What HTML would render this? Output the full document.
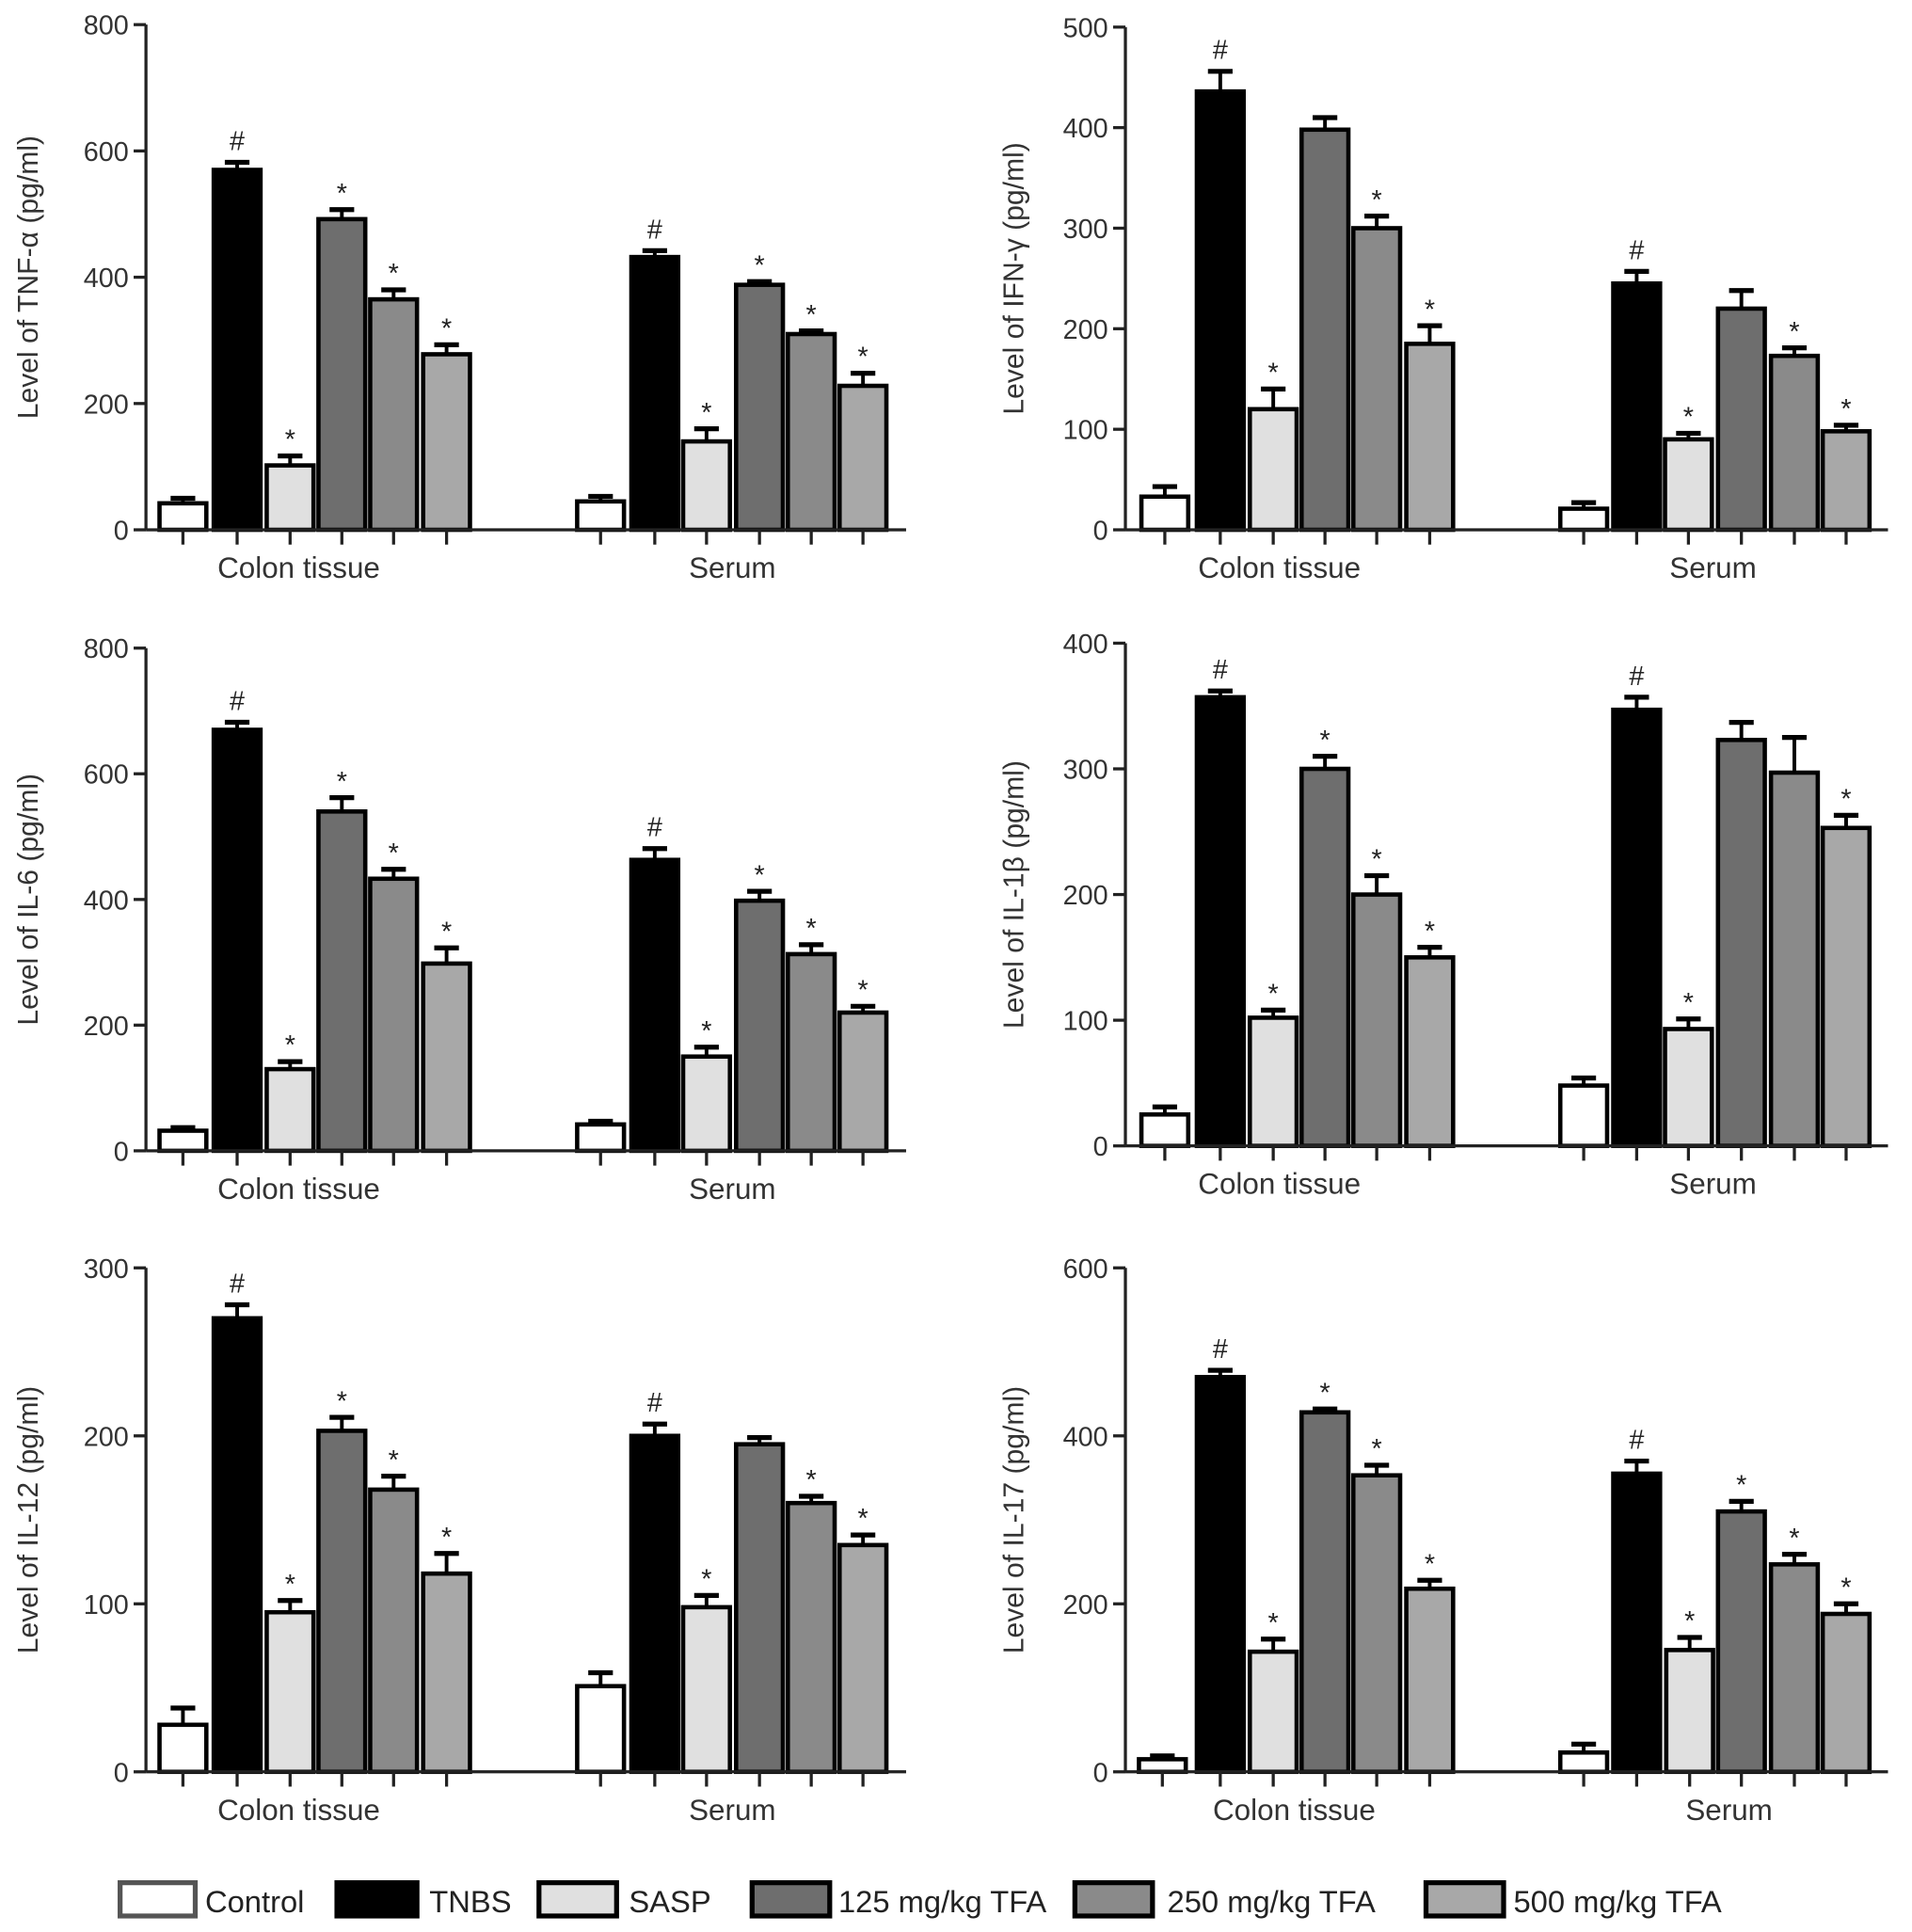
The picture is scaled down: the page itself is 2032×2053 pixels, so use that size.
<!DOCTYPE html>
<html><head><meta charset="utf-8"><style>
html,body{margin:0;padding:0;background:#fff;}
svg{display:block;font-family:"Liberation Sans",sans-serif;}
</style></head><body>
<svg id="chart" width="2032" height="2053" viewBox="0 0 1551 1568" xmlns="http://www.w3.org/2000/svg"></svg>
<script>
const groups = ['Colon tissue','Serum'];
const seriesNames = ['Control','TNBS','SASP','125 mg/kg TFA','250 mg/kg TFA','500 mg/kg TFA'];
const fills = ['#ffffff','#000000','#e0e0e0','#6e6e6e','#8a8a8a','#a8a8a8'];

const tnfColon = [42,570,102,492,365,278];
const tnfColonErr = [8,12,15,15,15,15];
const tnfSerum = [45,432,140,388,310,228];
const tnfSerumErr = [8,10,20,5,5,20];
const tnfTicks = [0,200,400,600,800];

const ifnColon = [33,436,120,398,300,185];
const ifnColonErr = [10,20,20,12,12,18];
const ifnSerum = [21,245,90,220,173,98];
const ifnSerumErr = [6,12,6,18,8,6];
const ifnTicks = [0,100,200,300,400,500];

const il6Colon = [32,670,130,540,433,298];
const il6ColonErr = [5,12,12,22,15,25];
const il6Serum = [42,463,150,398,313,220];
const il6SerumErr = [5,18,15,15,15,10];
const il6Ticks = [0,200,400,600,800];

const il1bColon = [25,357,102,300,200,150];
const il1bColonErr = [6,5,6,10,15,8];
const il1bSerum = [48,347,93,323,297,253];
const il1bSerumErr = [6,10,8,14,28,10];
const il1bTicks = [0,100,200,300,400];

const il12Colon = [28,270,95,203,168,118];
const il12ColonErr = [10,8,7,8,8,12];
const il12Serum = [51,200,98,195,160,135];
const il12SerumErr = [8,7,7,4,4,6];
const il12Ticks = [0,100,200,300];

const il17Colon = [15,470,143,428,353,218];
const il17ColonErr = [4,8,15,4,12,10];
const il17Serum = [23,355,145,310,247,188];
const il17SerumErr = [10,15,15,12,12,12];
const il17Ticks = [0,200,400,600];

const markAll = ['','#','*','*','*','*'];
const markIfn = ['','#','*','','*','*'];
const markIl1bSerum = ['','#','*','','','*'];

const NS='http://www.w3.org/2000/svg';
const svg=document.getElementById('chart');
function mk(tag,attrs,parent){const e=document.createElementNS(NS,tag);for(const k in attrs)e.setAttribute(k,attrs[k]);(parent||svg).appendChild(e);return e;}

const panels=[
 {id:'tnf',title:'Level of TNF-α (pg/ml)',ax:118,top:20,bot:430,right:735,ticks:tnfTicks,data:[tnfColon,tnfSerum],err:[tnfColonErr,tnfSerumErr],marks:[markAll,markAll],cx:[[148,192,235,277,319,362],[487,531,573,616,658,700]],lab:[242,594],tx:22},
 {id:'ifn',title:'Level of IFN-γ (pg/ml)',ax:913,top:22,bot:430,right:1532,ticks:ifnTicks,data:[ifnColon,ifnSerum],err:[ifnColonErr,ifnSerumErr],marks:[markIfn,markIfn],cx:[[945,990,1033,1075,1117,1160],[1285,1328,1370,1413,1456,1498]],lab:[1038,1390],tx:822},
 {id:'il6',title:'Level of IL-6 (pg/ml)',ax:118,top:526,bot:934,right:735,ticks:il6Ticks,data:[il6Colon,il6Serum],err:[il6ColonErr,il6SerumErr],marks:[markAll,markAll],cx:[[148,192,235,277,319,362],[487,531,573,616,658,700]],lab:[242,594],tx:22},
 {id:'il1b',title:'Level of IL-1β (pg/ml)',ax:913,top:522,bot:930,right:1532,ticks:il1bTicks,data:[il1bColon,il1bSerum],err:[il1bColonErr,il1bSerumErr],marks:[markAll,markIl1bSerum],cx:[[945,990,1033,1075,1117,1160],[1285,1328,1370,1413,1456,1498]],lab:[1038,1390],tx:822},
 {id:'il12',title:'Level of IL-12 (pg/ml)',ax:118,top:1029,bot:1438,right:735,ticks:il12Ticks,data:[il12Colon,il12Serum],err:[il12ColonErr,il12SerumErr],marks:[markAll,markIfn],cx:[[148,192,235,277,319,362],[487,531,573,616,658,700]],lab:[242,594],tx:22},
 {id:'il17',title:'Level of IL-17 (pg/ml)',ax:913,top:1029,bot:1438,right:1532,ticks:il17Ticks,data:[il17Colon,il17Serum],err:[il17ColonErr,il17SerumErr],marks:[markAll,markAll],cx:[[943,990,1033,1075,1117,1160],[1285,1328,1371,1413,1456,1498]],lab:[1050,1403],tx:822}
];

panels.forEach(p=>{
  const g=mk('g',{});
  
  
  const max=p.ticks[p.ticks.length-1];
  const y=v=>p.bot-(v/max)*(p.bot-p.top);
  p.data.forEach((vals,gi)=>{
    vals.forEach((v,si)=>{
      const cx=p.cx[gi][si], w=38;
      const e=p.err[gi][si];
      const el=mk('line',{x1:cx,x2:cx,y1:y(v),y2:y(v+e),stroke:'#000','stroke-width':3},g);
      
      
      const cap=mk('line',{x1:cx-10,x2:cx+10,y1:y(v+e),y2:y(v+e),stroke:'#000','stroke-width':4},g);
      
      
      const r=mk('rect',{x:cx-w/2,y:y(v),width:w,height:p.bot-y(v),fill:fills[si],stroke:'#000','stroke-width':3.5},g);
      
      
      const m=p.marks[gi][si];
      if(m){const t=mk('text',{x:cx,y:y(v+e)-(m==='#'?10:6),'text-anchor':'middle','font-size':22,fill:'#222'},g);t.textContent=m;
        
        }
      const tk=mk('line',{x1:cx,x2:cx,y1:p.bot,y2:p.bot+12,stroke:'#222','stroke-width':2.5},g);
      
      
    });
    const lt=mk('text',{x:p.lab[gi],y:p.bot+39,'text-anchor':'middle','font-size':24,fill:'#333'},g);
    lt.textContent=groups[gi];
    
    
  });
  const ya=mk('line',{x1:p.ax,x2:p.ax,y1:p.top,y2:p.bot,stroke:'#222','stroke-width':2.5},g);
  
  
  const xa=mk('line',{x1:p.ax,x2:p.right,y1:p.bot,y2:p.bot,stroke:'#222','stroke-width':2.5},g);
  
  
  p.ticks.forEach(t=>{
    const l=mk('line',{x1:p.ax-10,x2:p.ax,y1:y(t),y2:y(t),stroke:'#222','stroke-width':2.5},g);
    
    
    const tt=mk('text',{x:p.ax-14,y:y(t)+8,'text-anchor':'end','font-size':22,fill:'#333'},g);
    tt.textContent=t;
    
    
  });
  const cy=(p.top+p.bot)/2;
  const ttl=mk('text',{x:p.tx+8,y:cy,'text-anchor':'middle','font-size':23,fill:'#333',transform:`rotate(-90 ${p.tx+8} ${cy})`},g);
  ttl.textContent=p.title;
  
  
});

const legBox=[[97,158,166],[273,338,348],[437,500,510],[610,673,680],[872,935,947],[1157,1220,1228]];
const lg=mk('g',{});


seriesNames.forEach((n,i)=>{
  const b=legBox[i];
  const r=mk('rect',{x:b[0],y:1528,width:b[1]-b[0],height:27,fill:fills[i],stroke:i===0?'#555':'#000','stroke-width':4},lg);
  
  
  const t=mk('text',{x:b[2],y:1552,'font-size':25,fill:'#222'},lg);
  t.textContent=n;
  
  
});
</script>
</body></html>
